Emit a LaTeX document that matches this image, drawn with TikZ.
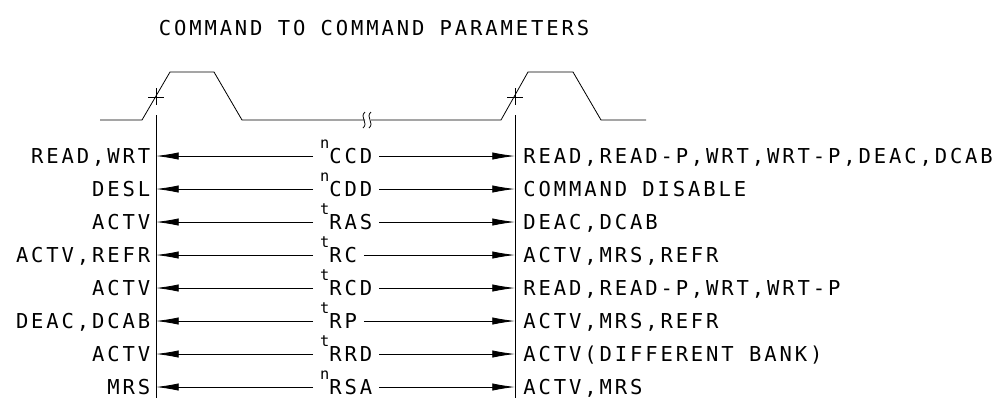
\documentclass[tikz,border=0pt]{standalone}
\usepackage{fontspec}
\newfontfamily\cadfont[LetterSpace=14]{DejaVu Sans Mono}
\usepackage{tikz}
\usetikzlibrary{arrows.meta}
\usetikzlibrary{positioning}

\newcommand{\parpre}[1]{\raisebox{11.2pt}{\fontsize{11.5}{13}\selectfont #1}}

\tikzset{
    cad/.style={font=\cadfont\fontsize{15.4}{18}\selectfont, text height=11.2pt, text depth=0pt, inner ysep=2pt},
    cmdleft/.style={cad, anchor=east, inner xsep=4pt},
    cmdright/.style={cad, anchor=west, inner xsep=6pt},
    param/.style={cad, anchor=west, inner xsep=5pt},
    parrow/.style={-{Latex[length=17pt,width=5.5pt]}},
}

\begin{document}
\begin{tikzpicture}[x=0.75pt,y=-0.75pt,line width=0.6pt]
                \useasboundingbox (0,0) rectangle (997,412);
                \node[cad] (title) at (374,28.5) {COMMAND TO COMMAND PARAMETERS};

                % clock edges
                \draw (100,120) -- (142,120) -- (170,72) -- (214,72) -- (242,120) -- (365,120);
                \draw (371,120) -- (501,120) -- (528,72) -- (573,72) -- (601,120) -- (646,120);
                \draw (365,112) .. controls (359,117) and (369,123) .. (363,128);
                \draw (371,112) .. controls (365,117) and (375,123) .. (369,128);
                \draw (148,97) -- (164,97) (156,88) -- (156,105);
                \draw (507,97) -- (523,97) (515,88) -- (515,105);
                \draw (156,115) -- (156,398);
                \draw (515,115) -- (515,398);

                \node[cmdleft] (l1) at (156,156) {READ,WRT};
                \node[param] (m1) at (313,156) {\parpre{n}CCD};
                \node[cmdright] (r1) at (515,156) {READ,READ-P,WRT,WRT-P,DEAC,DCAB};
                \draw[parrow] (m1.west) -- (l1.east);
                \draw[parrow] (m1.east) -- (r1.west);

                \node[cmdleft] (l2) at (156,189) {DESL};
                \node[param] (m2) at (313,189) {\parpre{n}CDD};
                \node[cmdright] (r2) at (515,189) {COMMAND DISABLE};
                \draw[parrow] (m2.west) -- (l2.east);
                \draw[parrow] (m2.east) -- (r2.west);

                \node[cmdleft] (l3) at (156,222) {ACTV};
                \node[param] (m3) at (313,222) {\parpre{t}RAS};
                \node[cmdright] (r3) at (515,222) {DEAC,DCAB};
                \draw[parrow] (m3.west) -- (l3.east);
                \draw[parrow] (m3.east) -- (r3.west);

                \node[cmdleft] (l4) at (156,255) {ACTV,REFR};
                \node[param] (m4) at (313,255) {\parpre{t}RC};
                \node[cmdright] (r4) at (515,255) {ACTV,MRS,REFR};
                \draw[parrow] (m4.west) -- (l4.east);
                \draw[parrow] (m4.east) -- (r4.west);

                \node[cmdleft] (l5) at (156,288) {ACTV};
                \node[param] (m5) at (313,288) {\parpre{t}RCD};
                \node[cmdright] (r5) at (515,288) {READ,READ-P,WRT,WRT-P};
                \draw[parrow] (m5.west) -- (l5.east);
                \draw[parrow] (m5.east) -- (r5.west);

                \node[cmdleft] (l6) at (156,321) {DEAC,DCAB};
                \node[param] (m6) at (313,321) {\parpre{t}RP};
                \node[cmdright] (r6) at (515,321) {ACTV,MRS,REFR};
                \draw[parrow] (m6.west) -- (l6.east);
                \draw[parrow] (m6.east) -- (r6.west);

                \node[cmdleft] (l7) at (156,354) {ACTV};
                \node[param] (m7) at (313,354) {\parpre{t}RRD};
                \node[cmdright] (r7) at (515,354) {ACTV(DIFFERENT BANK)};
                \draw[parrow] (m7.west) -- (l7.east);
                \draw[parrow] (m7.east) -- (r7.west);

                \node[cmdleft] (l8) at (156,387) {MRS};
                \node[param] (m8) at (313,387) {\parpre{n}RSA};
                \node[cmdright] (r8) at (515,387) {ACTV,MRS};
                \draw[parrow] (m8.west) -- (l8.east);
                \draw[parrow] (m8.east) -- (r8.west);
            \end{tikzpicture}
\end{document}
